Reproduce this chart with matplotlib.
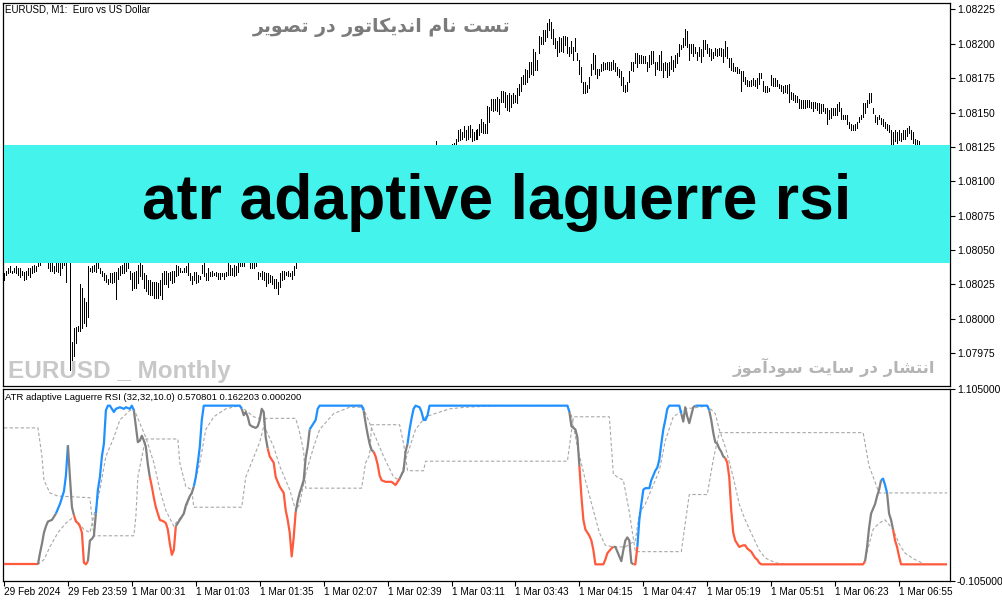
import matplotlib
matplotlib.use("Agg")
import matplotlib.pyplot as plt
from matplotlib import font_manager
from matplotlib.patches import Rectangle
import numpy as np

W, H = 1003, 603

# price bars, in points (1e-5) above 1.07900, one per M1 bar
bar_high = [
    133, 135, 137, 138, 135, 137, 138, 137, 137, 135,
    134, 135, 137, 137, 138, 139, 138, 145, 146, 150,
    152, 150, 145, 143, 143, 138, 143, 142, 142, 145,
    146, 148, 150, 148, 83, 93, 94, 95, 125, 122,
    115, 112, 138, 137, 138, 139, 145, 146, 137, 135,
    133, 132, 129, 133, 133, 134, 134, 137, 138, 139,
    142, 146, 146, 135, 133, 134, 135, 139, 142, 139,
    133, 132, 128, 128, 127, 127, 127, 126, 128, 133,
    135, 135, 133, 134, 135, 135, 139, 138, 137, 135,
    137, 138, 143, 133, 131, 134, 134, 132, 131, 139,
    142, 133, 137, 134, 135, 133, 134, 133, 133, 133,
    133, 134, 143, 139, 137, 139, 138, 143, 145, 145,
    145, 150, 152, 145, 145, 145, 144, 134, 133, 135,
    134, 133, 133, 132, 131, 129, 129, 127, 133, 135,
    135, 134, 135, 133, 135, 138, 145, 147, 148, 150,
    152, 151, 154, 156, 155, 158, 160, 159, 162, 164,
    163, 166, 168, 167, 170, 172, 171, 174, 176, 175,
    178, 180, 179, 182, 184, 183, 186, 188, 187, 190,
    192, 191, 193, 195, 194, 197, 199, 198, 201, 203,
    202, 204, 206, 205, 208, 210, 209, 211, 213, 212,
    214, 216, 215, 217, 219, 218, 220, 221, 220, 222,
    223, 222, 223, 224, 223, 224, 229, 224, 223, 225,
    224, 222, 224, 225, 227, 228, 231, 237, 238, 236,
    240, 237, 240, 241, 238, 236, 237, 238, 242, 245,
    243, 242, 255, 254, 260, 260, 260, 261, 260, 266,
    266, 265, 263, 264, 263, 264, 263, 268, 271, 276,
    277, 282, 281, 287, 287, 296, 294, 288, 306, 305,
    310, 310, 315, 318, 316, 311, 304, 302, 305, 304,
    306, 306, 305, 298, 302, 298, 304, 293, 288, 283,
    272, 272, 270, 276, 285, 293, 292, 282, 282, 285,
    287, 286, 287, 287, 287, 288, 286, 283, 282, 280,
    276, 270, 272, 280, 287, 287, 293, 293, 292, 292,
    291, 291, 287, 292, 295, 295, 287, 287, 292, 295,
    286, 287, 286, 287, 291, 288, 292, 293, 300, 299,
    304, 311, 309, 300, 300, 300, 298, 294, 298, 296,
    303, 303, 300, 297, 296, 294, 297, 296, 297, 297,
    296, 302, 298, 290, 290, 286, 283, 283, 282, 280,
    280, 276, 274, 273, 274, 275, 274, 275, 279, 279,
    273, 269, 269, 268, 277, 275, 275, 274, 271, 270,
    269, 270, 270, 271, 265, 264, 263, 262, 260, 259,
    259, 259, 259, 259, 258, 258, 258, 257, 257, 256,
    256, 253, 253, 252, 253, 253, 253, 256, 258, 253,
    248, 248, 248, 243, 242, 241, 242, 243, 247, 248,
    257, 257, 259, 264, 264, 253, 248, 247, 248, 246,
    245, 243, 242, 241, 237, 236, 237, 236, 237, 235,
    237, 237, 239, 240, 237, 236, 231, 230, 229, 225,
    224, 223, 224, 222, 223, 221, 222, 220, 221, 219,
    220, 218, 219,
]
bar_low = [
    128, 132, 133, 134, 133, 134, 133, 132, 130, 132,
    128, 129, 132, 130, 133, 134, 135, 138, 139, 142,
    144, 143, 137, 135, 135, 133, 135, 134, 132, 137,
    139, 127, 141, 63, 63, 73, 82, 91, 91, 93,
    97, 95, 101, 135, 134, 135, 134, 137, 133, 131,
    128, 127, 125, 127, 126, 127, 114, 129, 132, 133,
    133, 135, 137, 129, 121, 122, 122, 126, 131, 129,
    122, 120, 118, 117, 117, 115, 115, 115, 117, 114,
    125, 125, 123, 128, 126, 127, 131, 132, 134, 134,
    134, 134, 132, 128, 125, 128, 126, 127, 129, 133,
    131, 128, 128, 131, 131, 132, 131, 129, 129, 131,
    129, 131, 132, 132, 132, 131, 132, 134, 138, 138,
    138, 142, 143, 137, 137, 137, 138, 129, 131, 129,
    128, 124, 126, 127, 125, 122, 122, 118, 123, 128,
    129, 132, 131, 131, 129, 132, 137, 141, 142, 143,
    145, 144, 147, 149, 148, 150, 152, 153, 155, 157,
    156, 158, 160, 160, 162, 165, 164, 166, 168, 168,
    170, 172, 172, 174, 176, 176, 178, 180, 180, 182,
    184, 184, 186, 188, 187, 189, 191, 191, 193, 195,
    195, 197, 199, 198, 200, 202, 202, 204, 206, 205,
    207, 209, 208, 210, 212, 211, 213, 214, 213, 215,
    216, 215, 217, 218, 217, 218, 222, 218, 217, 219,
    218, 216, 219, 220, 221, 222, 224, 229, 230, 231,
    232, 230, 231, 232, 229, 230, 231, 231, 234, 236,
    235, 235, 235, 243, 252, 251, 252, 251, 249, 258,
    258, 254, 252, 251, 254, 257, 258, 257, 263, 266,
    271, 271, 272, 276, 278, 277, 281, 281, 293, 300,
    300, 302, 305, 310, 304, 300, 297, 291, 294, 295,
    294, 299, 293, 291, 293, 288, 295, 288, 278, 272,
    264, 264, 265, 268, 277, 282, 278, 275, 277, 280,
    281, 282, 282, 281, 281, 282, 280, 277, 276, 270,
    266, 265, 266, 272, 281, 280, 286, 283, 286, 286,
    286, 286, 280, 283, 285, 286, 277, 282, 281, 281,
    276, 281, 276, 277, 282, 280, 283, 286, 291, 296,
    298, 299, 298, 288, 293, 291, 293, 288, 291, 287,
    291, 296, 293, 291, 288, 290, 292, 291, 292, 291,
    287, 291, 290, 283, 281, 280, 280, 279, 279, 266,
    273, 271, 269, 269, 269, 270, 269, 268, 271, 275,
    266, 265, 265, 266, 270, 269, 269, 269, 268, 266,
    264, 265, 264, 258, 260, 259, 258, 258, 253, 253,
    253, 253, 254, 254, 253, 251, 253, 252, 250, 250,
    251, 250, 242, 245, 246, 248, 248, 248, 251, 245,
    245, 245, 242, 239, 237, 237, 237, 239, 243, 245,
    247, 250, 254, 257, 258, 250, 243, 242, 245, 242,
    240, 239, 237, 236, 226, 226, 229, 228, 230, 229,
    231, 231, 233, 235, 231, 228, 226, 226, 226, 219,
    218, 217, 218, 216, 217, 215, 216, 214, 215, 213,
    214, 212, 213,
]

price_ticks = [1.07975, 1.08000, 1.08025, 1.08050, 1.08075, 1.08100,
               1.08125, 1.08150, 1.08175, 1.08200, 1.08225]

# ATR adaptive Laguerre RSI vertices: bar, value, colour state of the segment ending there
rsi_bar = [0, 17, 18, 19, 20, 21, 22, 24, 26, 27, 28, 29, 30, 31, 32, 33, 34, 35,
           36, 37, 38, 39, 40, 41, 42, 43, 44, 45, 46, 47, 48, 49, 50, 51, 52, 53,
           55, 56, 58, 60, 61, 63, 64, 65, 66, 67, 68, 69, 70, 71, 72, 73, 74, 75,
           76, 78, 80, 81, 82, 83, 84, 85, 86, 88, 90, 91, 93, 94, 95, 96, 97, 98,
           99, 100, 118, 119, 120, 121, 122, 123, 124, 126, 127, 128, 129, 130,
           131, 132, 133, 135, 136, 138, 140, 141, 142, 143, 144, 145, 146, 147,
           148, 150, 151, 152, 153, 155, 156, 157, 158, 179, 180, 181, 182, 183,
           184, 185, 186, 187, 188, 189, 191, 194, 195, 196, 198, 200, 201, 202,
           203, 204, 205, 206, 208, 209, 210, 211, 212, 213, 282, 283, 284, 286,
           287, 288, 289, 290, 291, 292, 293, 294, 295, 296, 300, 301, 302, 304,
           305, 306, 307, 309, 310, 311, 312, 313, 314, 315, 316, 317, 318, 319,
           320, 321, 323, 324, 325, 326, 327, 328, 329, 330, 331, 332, 333, 338,
           339, 340, 341, 342, 343, 344, 345, 346, 352, 353, 354, 355, 356, 357,
           358, 359, 360, 361, 362, 363, 364, 365, 366, 367, 368, 370, 371, 372,
           373, 374, 375, 376, 377, 378, 379, 430, 431, 432, 433, 434, 435, 436,
           437, 438, 439, 440, 441, 442, 443, 444, 445, 446, 447, 448, 449, 472]
rsi_value = [0, 0, 0.07, 0.13, 0.20, 0.24, 0.27, 0.28, 0.32, 0.35, 0.38, 0.42, 0.46,
             0.56, 0.75, 0.55, 0.36, 0.31, 0.27, 0.26, 0.24, 0.20, 0.01, 0.0, 0.02,
             0.15, 0.16, 0.18, 0.32, 0.47, 0.55, 0.68, 0.76, 0.97, 1.0, 1.0, 0.96,
             0.98, 0.99, 0.98, 0.99, 0.98, 1.0, 0.97, 0.87, 0.77, 0.78, 0.81, 0.78,
             0.74, 0.63, 0.55, 0.49, 0.42, 0.36, 0.28, 0.27, 0.26, 0.22, 0.13, 0.06,
             0.09, 0.24, 0.28, 0.32, 0.37, 0.43, 0.45, 0.49, 0.55, 0.64, 0.74, 0.91,
             1.0, 1.0, 0.98, 0.94, 0.96, 0.93, 0.88, 0.87, 0.86, 0.87, 0.91, 0.98,
             0.96, 0.80, 0.73, 0.68, 0.64, 0.55, 0.49, 0.45, 0.34, 0.28, 0.20, 0.05,
             0.17, 0.33, 0.40, 0.45, 0.53, 0.67, 0.74, 0.85, 0.89, 0.91, 0.98, 1.0,
             1.0, 0.97, 0.89, 0.82, 0.76, 0.72, 0.71, 0.68, 0.63, 0.56, 0.53, 0.52,
             0.52, 0.51, 0.50, 0.54, 0.59, 0.71, 0.76, 0.85, 0.92, 0.98, 1.0, 0.99,
             0.96, 0.91, 0.91, 0.94, 1.0, 1.0, 0.96, 0.87, 0.85, 0.80, 0.62, 0.43,
             0.28, 0.22, 0.20, 0.18, 0.15, 0.09, 0.0, 0.0, 0.03, 0.07, 0.10, 0.11,
             0.11, 0.08, 0.02, 0.09, 0.15, 0.17, 0.15, 0.01, 0.0, 0.0, 0.11, 0.28,
             0.38, 0.47, 0.48, 0.48, 0.53, 0.56, 0.59, 0.61, 0.66, 0.76, 0.85, 0.91,
             0.98, 1.0, 1.0, 0.95, 0.90, 0.99, 0.93, 0.89, 0.94, 0.99, 1.0, 1.0,
             0.97, 0.91, 0.83, 0.77, 0.76, 0.73, 0.71, 0.68, 0.67, 0.64, 0.55, 0.34,
             0.20, 0.15, 0.13, 0.11, 0.12, 0.12, 0.10, 0.09, 0.08, 0.06, 0.04, 0.03,
             0.01, 0.0, 0.0, 0.02, 0.11, 0.23, 0.32, 0.35, 0.38, 0.43, 0.47, 0.53,
             0.54, 0.50, 0.45, 0.32, 0.28, 0.22, 0.15, 0.11, 0.05, 0.0, 0.0]
rsi_state = ("rr" + "g" * 7 + "b" * 6 + "g" * 3 + "r" * 7 + "g" * 4 + "b" * 15
             + "g" * 8 + "r" * 11 + "g" * 6 + "b" * 7 + "g" * 12 + "r" * 11
             + "g" * 6 + "b" * 6 + "g" * 5 + "r" * 9 + "g" * 3 + "b" * 12
             + "g" * 4 + "r" * 13 + "g" * 9 + "r" * 2 + "b" * 17 + "g" * 7
             + "b" * 2 + "g" * 8 + "r" * 19 + "g" * 8 + "b" * 3 + "g" * 3 + "r" * 7)

# floating level (dashed, stepped)
level_bar = [0, 17, 19, 20, 23, 27, 43, 45, 65, 66, 67, 70, 71, 87, 88, 91, 94, 95,
             119, 121, 128, 131, 146, 148, 150, 151, 179, 181, 183, 184, 198, 200,
             202, 210, 211, 282, 285, 303, 305, 307, 310, 313, 316, 339, 343, 352,
             355, 358, 430, 433, 438, 472]
level_value = [0.86, 0.86, 0.68, 0.53, 0.45, 0.43, 0.42, 0.18, 0.18, 0.30, 0.55,
               0.74, 0.79, 0.79, 0.64, 0.49, 0.47, 0.36, 0.36, 0.55, 0.77, 0.92,
               0.92, 0.83, 0.71, 0.48, 0.48, 0.64, 0.69, 0.88, 0.88, 0.76, 0.59,
               0.59, 0.65, 0.65, 0.93, 0.93, 0.57, 0.55, 0.53, 0.33, 0.08, 0.08,
               0.44, 0.44, 0.66, 0.83, 0.83, 0.62, 0.45, 0.45]

# smoothed signal (dashed)
signal_bar = [0, 17, 20, 23, 27, 31, 34, 36, 40, 43, 46, 48, 51, 55, 58, 63, 65, 66,
              68, 71, 75, 78, 81, 85, 86, 90, 95, 98, 101, 105, 111, 118, 125, 130,
              131, 135, 138, 143, 146, 148, 151, 155, 158, 165, 173, 180, 181, 185,
              190, 195, 198, 201, 206, 211, 223, 231, 248, 282, 284, 287, 291, 295,
              298, 301, 305, 311, 316, 318, 321, 328, 331, 335, 341, 348, 352, 356,
              358, 361, 365, 368, 371, 375, 378, 381, 386, 391, 430, 431, 435, 438,
              441, 445, 448, 451, 456, 461, 472]
signal_value = [0, 0, 0.03, 0.11, 0.20, 0.26, 0.29, 0.28, 0.22, 0.20, 0.36, 0.47,
                0.68, 0.80, 0.91, 0.97, 0.98, 0.95, 0.89, 0.80, 0.64, 0.47, 0.34,
                0.24, 0.26, 0.32, 0.49, 0.64, 0.85, 0.93, 0.98, 1.0, 0.93, 0.91,
                0.85, 0.74, 0.62, 0.47, 0.34, 0.38, 0.57, 0.74, 0.85, 0.95, 0.99,
                0.99, 0.95, 0.83, 0.68, 0.55, 0.53, 0.66, 0.85, 0.93, 0.98, 0.99,
                1.0, 1.0, 0.94, 0.74, 0.53, 0.34, 0.20, 0.12, 0.11, 0.11, 0.15,
                0.32, 0.38, 0.59, 0.78, 0.93, 0.98, 0.99, 1.0, 0.95, 0.85, 0.74,
                0.55, 0.38, 0.28, 0.17, 0.09, 0.04, 0.01, 0.0, 0.0, 0.03, 0.22,
                0.26, 0.28, 0.22, 0.13, 0.07, 0.03, 0.0, 0.0]

time_tick_bars = [0, 32, 64, 96, 128, 160, 192, 224, 256, 288, 320, 352, 384, 416, 448]
time_tick_labels = ["29 Feb 2024", "29 Feb 23:59", "1 Mar 00:31", "1 Mar 01:03",
                    "1 Mar 01:35", "1 Mar 02:07", "1 Mar 02:39", "1 Mar 03:11",
                    "1 Mar 03:43", "1 Mar 04:15", "1 Mar 04:47", "1 Mar 05:19",
                    "1 Mar 05:51", "1 Mar 06:23", "1 Mar 06:55"]
rsi_ticks = [-0.105, 1.105]

state_colors = {"r": "#ff5a3c", "g": "#808080", "b": "#1e90ff"}


def has_font(name, weight="normal"):
    try:
        font_manager.findfont(font_manager.FontProperties(family=name, weight=weight),
                              fallback_to_default=False)
        return True
    except Exception:
        return False


small_font = "Liberation Sans" if has_font("Liberation Sans") else "DejaVu Sans"

fig = plt.figure(figsize=(W / 100, H / 100), dpi=100)
fig.patch.set_facecolor("white")


def fx(px):
    return px / W


def fy(py):
    return 1 - py / H


ax1 = fig.add_axes([fx(3), fy(386), fx(947), 383 / H])
ax2 = fig.add_axes([fx(3), fy(581), fx(947), 192 / H])

n_bars = len(bar_high)
bars = np.arange(n_bars)
hi = 1.079 + np.array(bar_high) / 1e5
lo = 1.079 + np.array(bar_low) / 1e5

# price panel
ax1.vlines(bars, lo, hi, colors="black", linewidth=0.5, antialiased=False)
ax1.set_xlim(-0.5, n_bars + 0.5)
ax1.set_ylim(1.079 + 51.0 / 1e5, 1.079 + 329.7 / 1e5)
ax1.set_xticks([])
ax1.yaxis.tick_right()
ax1.set_yticks(price_ticks)
ax1.set_yticklabels(["%.5f" % p for p in price_ticks])

# indicator panel
ax2.plot(level_bar, level_value, color="#a8a8a8", lw=0.8, ls=(0, (3, 2)), zorder=2)
ax2.plot(signal_bar, signal_value, color="#a8a8a8", lw=0.8, ls=(0, (3, 2)), zorder=2)

# group consecutive segments with the same colour
start = 0
for k in range(1, len(rsi_bar) + 1):
    if k == len(rsi_bar) or (k > 1 and rsi_state[k] != rsi_state[k - 1]):
        seg_x = rsi_bar[start:k]
        seg_y = rsi_value[start:k]
        ax2.plot(seg_x, seg_y, color=state_colors[rsi_state[k - 1]], lw=1.6,
                 solid_joinstyle="round", solid_capstyle="butt", zorder=3)
        start = k - 1

ax2.set_xlim(-0.5, n_bars + 0.5)
ax2.set_ylim(-0.105, 1.105)
ax2.yaxis.tick_right()
ax2.set_yticks(rsi_ticks)
ax2.set_yticklabels(["%.6f" % v for v in rsi_ticks])
ax2.set_xticks(time_tick_bars)
ax2.set_xticklabels(time_tick_labels, ha="left")

for ax in (ax1, ax2):
    for sp in ax.spines.values():
        sp.set_color("black")
        sp.set_linewidth(0.9)
    ax.tick_params(axis="y", direction="out", length=3.5, width=0.8, pad=1.5,
                   labelsize=7.5, colors="black")
    for t in ax.get_yticklabels():
        t.set_fontfamily(small_font)
ax2.tick_params(axis="x", direction="out", length=3.5, width=0.8, pad=1.0,
                labelsize=7.2)
for t in ax2.get_xticklabels():
    t.set_fontfamily(small_font)

# banner
fig.add_artist(Rectangle((fx(4), fy(263)), fx(946), 118 / H, transform=fig.transFigure,
                         facecolor="#44f4ec", edgecolor="none", zorder=10))
fig.text(fx(497), fy(203), "atr adaptive laguerre rsi", ha="center", va="center",
         fontsize=45, fontweight="bold", family="Liberation Sans", color="black", zorder=11)

# chart captions
fig.text(fx(5), fy(10), "EURUSD, M1:  Euro vs US Dollar", ha="left", va="center",
         fontsize=7, family=small_font, color="black")
fig.text(fx(5), fy(398), "ATR adaptive Laguerre RSI (32,32,10.0) 0.570801 0.162203 0.000200",
         ha="left", va="center", fontsize=6.8, family=small_font, color="black")

# watermarks (Persian text, shaped glyphs in visual order)
title_fa = ("\ufeae\ufbfe\ufeee\ufebc\ufe97 \ufead\ufea9 "
            "\ufead\ufeee\ufe97\ufe8e\ufb91\ufbfe\ufeaa\ufee7\ufe8d "
            "\ufee1\ufe8e\ufee7 \ufe96\ufeb4\ufe97")
footer_fa = ("\ufeaf\ufeee\ufee3\ufe81\ufea9\ufeee\ufeb3 \ufe96\ufbfe\ufe8e\ufeb3 "
             "\ufead\ufea9 \ufead\ufe8e\ufeb8\ufe98\ufee7\ufe8d")
fig.text(fx(510), fy(27), title_fa, ha="right", va="center", fontsize=13.6,
         fontweight="bold", family=["DejaVu Sans"], color="#7b7b7b")
fig.text(fx(935), fy(367), footer_fa, ha="right", va="center", fontsize=11.8,
         fontweight="bold", family=["DejaVu Sans"], color="#b4b4b4")
fig.text(fx(8), fy(378), "EURUSD _ Monthly", ha="left", va="baseline", fontsize=17.5,
         fontweight="bold", family=small_font, color="#c8c8c8")

fig.savefig("out.png", dpi=100)
